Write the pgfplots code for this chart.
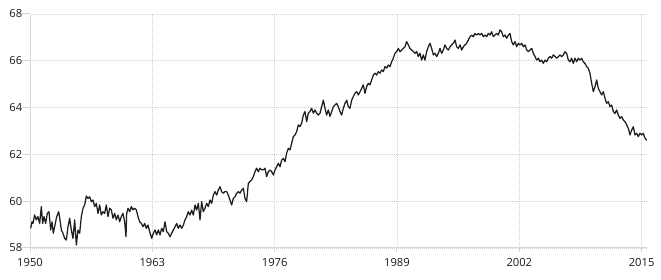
\documentclass[border=0pt]{standalone}
\usepackage{fontspec}
\setmainfont{Open Sans}
\usepackage{pgfplots}
\usepackage{pgfplotstable}
\pgfplotsset{compat=1.18}
\definecolor{gridc}{HTML}{CFCFCF}
\definecolor{axisc}{HTML}{D6D6D6}
\definecolor{linec}{HTML}{1E1E1E}
\definecolor{textc}{HTML}{1A1A1A}
\pgfplotstableread{
year value
1950.071 58.84
1950.213 59.12
1950.319 59.05
1950.496 59.41
1950.673 59.20
1950.850 59.34
1951.027 59.05
1951.204 59.77
1951.346 59.05
1951.488 59.34
1951.665 59.05
1951.842 59.48
1952.019 59.55
1952.196 58.77
1952.338 59.12
1952.480 58.63
1952.621 58.91
1952.834 59.34
1953.047 59.55
1953.188 59.20
1953.330 58.77
1953.507 58.63
1953.684 58.41
1953.861 58.34
1954.038 58.91
1954.215 59.27
1954.392 58.77
1954.570 58.41
1954.747 59.20
1954.924 58.13
1955.101 58.77
1955.278 58.63
1955.455 59.34
1955.632 59.70
1955.809 59.84
1955.987 60.22
1956.164 60.12
1956.341 60.19
1956.518 59.98
1956.695 60.05
1956.872 59.77
1957.049 59.91
1957.226 59.48
1957.404 59.84
1957.581 59.41
1957.758 59.55
1957.935 59.48
1958.112 59.84
1958.289 59.34
1958.466 59.70
1958.643 59.63
1958.820 59.27
1958.998 59.48
1959.175 59.20
1959.352 59.41
1959.529 59.12
1959.706 59.34
1959.883 59.48
1960.060 59.12
1960.202 58.48
1960.273 59.48
1960.414 59.70
1960.591 59.55
1960.769 59.77
1960.946 59.63
1961.123 59.70
1961.300 59.63
1961.477 59.34
1961.654 59.12
1961.831 59.05
1962.008 58.91
1962.186 59.05
1962.363 58.84
1962.540 58.98
1962.717 58.70
1962.930 58.41
1963.107 58.63
1963.284 58.77
1963.461 58.56
1963.638 58.77
1963.815 58.56
1963.992 58.84
1964.169 58.70
1964.347 59.12
1964.524 58.70
1964.701 58.63
1964.878 58.48
1965.055 58.63
1965.232 58.77
1965.409 58.91
1965.586 59.05
1965.763 58.84
1965.941 58.98
1966.118 58.84
1966.295 58.98
1966.472 59.20
1966.649 59.34
1966.826 59.55
1967.003 59.41
1967.180 59.62
1967.357 59.41
1967.535 59.84
1967.712 59.62
1967.889 59.91
1968.066 59.20
1968.243 59.98
1968.420 59.55
1968.597 59.70
1968.774 59.91
1968.951 59.77
1969.129 60.05
1969.306 59.91
1969.483 60.26
1969.660 60.41
1969.837 60.26
1970.014 60.48
1970.191 60.62
1970.368 60.41
1970.545 60.34
1970.723 60.41
1970.900 60.41
1971.077 60.26
1971.254 60.05
1971.431 59.84
1971.608 60.12
1971.785 60.19
1971.962 60.34
1972.139 60.41
1972.317 60.34
1972.494 60.48
1972.671 60.55
1972.848 60.12
1973.025 59.98
1973.202 60.76
1973.379 60.84
1973.556 60.91
1973.733 61.05
1973.911 61.26
1974.088 61.41
1974.265 61.26
1974.442 61.41
1974.619 61.34
1974.796 61.34
1974.973 61.41
1975.150 61.05
1975.327 61.26
1975.505 61.33
1975.682 61.26
1975.859 61.12
1976.036 61.33
1976.213 61.47
1976.390 61.62
1976.567 61.47
1976.744 61.76
1976.922 61.83
1977.099 61.69
1977.276 62.05
1977.453 62.26
1977.630 62.19
1977.807 62.47
1977.984 62.76
1978.161 62.83
1978.338 62.97
1978.516 63.26
1978.693 63.19
1978.870 63.33
1979.047 63.68
1979.224 63.83
1979.401 63.40
1979.578 63.76
1979.755 63.83
1979.932 63.97
1980.110 63.76
1980.287 63.90
1980.464 63.76
1980.641 63.68
1980.818 63.76
1980.995 64.04
1981.172 64.32
1981.349 63.97
1981.526 63.68
1981.704 63.90
1981.881 63.62
1982.058 63.83
1982.235 64.04
1982.412 64.11
1982.589 64.18
1982.766 64.04
1982.943 63.83
1983.120 63.68
1983.298 63.97
1983.475 64.18
1983.652 64.32
1983.829 64.04
1984.006 63.97
1984.183 64.32
1984.360 64.47
1984.537 64.61
1984.714 64.68
1984.892 64.54
1985.069 64.68
1985.246 64.82
1985.423 64.97
1985.600 64.61
1985.777 64.90
1985.954 65.04
1986.131 64.97
1986.308 65.18
1986.486 65.39
1986.663 65.47
1986.840 65.39
1987.017 65.54
1987.194 65.47
1987.371 65.61
1987.548 65.54
1987.725 65.75
1987.902 65.69
1988.080 65.82
1988.257 65.75
1988.434 65.96
1988.611 66.11
1988.788 66.32
1988.965 66.39
1989.143 66.53
1989.320 66.39
1989.497 66.46
1989.674 66.53
1989.851 66.60
1990.028 66.82
1990.205 66.68
1990.382 66.53
1990.559 66.46
1990.737 66.39
1990.914 66.32
1991.091 66.39
1991.268 66.18
1991.445 66.32
1991.622 66.03
1991.799 66.25
1991.976 66.03
1992.153 66.39
1992.331 66.60
1992.508 66.75
1992.685 66.53
1992.862 66.25
1993.039 66.32
1993.216 66.18
1993.393 66.32
1993.570 66.53
1993.747 66.32
1993.925 66.46
1994.102 66.68
1994.279 66.53
1994.456 66.46
1994.633 66.60
1994.810 66.68
1994.987 66.75
1995.164 66.89
1995.341 66.60
1995.519 66.53
1995.696 66.68
1995.873 66.46
1996.050 66.60
1996.227 66.68
1996.404 66.75
1996.581 66.89
1996.758 67.03
1996.935 67.10
1997.113 67.03
1997.290 67.17
1997.467 67.10
1997.644 67.17
1997.821 67.10
1997.998 67.17
1998.175 67.03
1998.352 67.10
1998.529 67.03
1998.707 67.17
1998.884 67.10
1999.061 67.24
1999.238 67.03
1999.415 67.10
1999.592 67.17
1999.769 67.10
1999.946 67.32
2000.123 67.24
2000.301 67.03
2000.478 67.10
2000.655 66.96
2000.832 67.10
2001.010 67.17
2001.187 66.82
2001.364 66.68
2001.541 66.82
2001.718 66.60
2001.895 66.75
2002.073 66.68
2002.250 66.75
2002.427 66.60
2002.604 66.68
2002.781 66.46
2002.958 66.39
2003.135 66.46
2003.312 66.53
2003.489 66.32
2003.667 66.18
2003.844 66.03
2004.021 66.11
2004.198 65.96
2004.375 66.03
2004.552 65.89
2004.729 66.03
2004.906 65.96
2005.083 66.11
2005.261 66.18
2005.438 66.11
2005.615 66.25
2005.792 66.18
2005.969 66.11
2006.146 66.18
2006.323 66.25
2006.500 66.18
2006.677 66.25
2006.855 66.39
2007.032 66.32
2007.209 66.03
2007.386 65.96
2007.563 66.11
2007.740 65.89
2007.917 66.11
2008.094 65.96
2008.271 66.11
2008.449 66.03
2008.626 66.11
2008.803 65.96
2008.980 65.89
2009.157 65.75
2009.334 65.68
2009.511 65.46
2009.688 65.04
2009.865 64.68
2010.043 64.89
2010.220 65.18
2010.397 64.82
2010.574 64.68
2010.751 64.54
2010.928 64.68
2011.105 64.40
2011.282 64.18
2011.459 64.25
2011.637 64.04
2011.814 64.11
2011.991 63.83
2012.168 63.75
2012.345 63.90
2012.522 63.68
2012.699 63.54
2012.876 63.61
2013.053 63.47
2013.231 63.40
2013.408 63.26
2013.585 63.11
2013.762 62.83
2013.939 63.04
2014.116 63.18
2014.293 62.83
2014.470 62.90
2014.647 62.76
2014.825 62.90
2015.002 62.83
2015.179 62.90
2015.356 62.69
2015.550 62.60
}\lfpr

\begin{document}
\begin{tikzpicture}
\begin{axis}[
  at={(0pt,0pt)}, anchor=south west,
  scale only axis, width=617pt, height=234pt,
  xmin=1950, xmax=2015.57, ymin=58, ymax=68,
  xtick={1950,1963,1976,1989,2002,2015},
  ytick={58,60,62,64,66,68},
  x tick label style={/pgf/number format/1000 sep={}, yshift=-3pt},
  y tick label style={xshift=0pt},
  /pgf/number format/assume math mode=true,
  tick label style={font=\fontsize{11.2}{13}\selectfont, text=textc},
  axis x line*=bottom, axis y line*=left,
  axis line style={axisc, line width=1pt, -},
  grid=major,
  major grid style={gridc, line width=0.8pt, dash pattern=on 1pt off 1pt},
  tick align=outside,
  major tick style={axisc, line width=1pt},
  xtick style={/pgfplots/major tick length=4pt},
  ytick style={/pgfplots/major tick length=8pt},
  clip=false,
]
\addplot[linec, line width=1.25pt, line join=round] table[x=year, y=value] {\lfpr};
\end{axis}
\pgfresetboundingbox
\path (-30pt,-32pt) rectangle (631pt,248pt);
\end{tikzpicture}
\end{document}
